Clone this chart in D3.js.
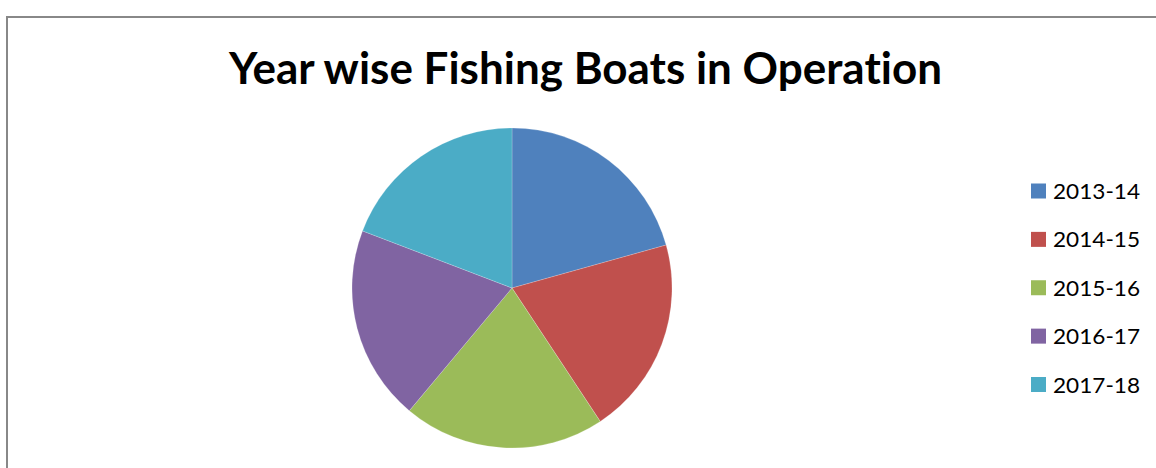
<!DOCTYPE html>
<html>
<head>
<meta charset="utf-8">
<script src="https://cdn.jsdelivr.net/npm/d3@7"></script>
<style>
  body { margin: 0; background: #fff; }
  svg { display: block; }
  text { font-variant-ligatures: none; font-feature-settings: "liga" 0, "clig" 0; }
</style>
</head>
<body>
<div id="chart"></div>
<script>
// data (slice share of boats)
const years = ["2013-14", "2014-15", "2015-16", "2016-17", "2017-18"];
const boats = [2067, 2003, 2039, 1972, 1919];
const colors = ["#4F81BD", "#C0504D", "#9BBB59", "#8064A2", "#4BACC6"];

const width = 1156, height = 468;

const svg = d3.select("#chart")
    .append("svg")
    .attr("width", width)
    .attr("height", height);

// chart frame, runs off the right and bottom edge
svg.append("path")
    .attr("d", `M7,${height + 5} L7,17 L${width + 5},17`)
    .attr("fill", "none")
    .attr("stroke", "#888")
    .attr("stroke-width", 2);

// title
svg.append("text")
    .attr("x", 229)
    .attr("y", 84)
    .attr("textLength", 713)
    .attr("lengthAdjust", "spacingAndGlyphs")
    .style("font-family", "Lato, 'Open Sans', sans-serif")
    .style("font-weight", "bold")
    .style("font-size", "43px")
    .style("fill", "#000")
    .text("Year wise Fishing Boats in Operation");

// pie
const radius = 160;
const pieGroup = svg.append("g")
    .attr("transform", "translate(512,288)");

const pie = d3.pie().sort(null).value(d => d.value);
const arc = d3.arc().innerRadius(0).outerRadius(radius);

const slices = years.map((y, i) => ({ year: y, value: boats[i] }));
const color = d3.scaleOrdinal().domain(years).range(colors);

pieGroup.selectAll("path")
    .data(pie(slices))
    .enter().append("path")
    .attr("d", arc)
    .attr("fill", d => color(d.data.year))
    .attr("stroke", "#fff")
    .attr("stroke-width", 0.4)
    .attr("stroke-opacity", 0.5);

// legend
const legendY = d3.scalePoint().domain(years).range([191, 384.5]);

const legend = svg.append("g");
const items = legend.selectAll("g")
    .data(years)
    .enter().append("g")
    .attr("transform", d => `translate(1031,${legendY(d)})`);

items.append("rect")
    .attr("x", 0)
    .attr("y", -7.5)
    .attr("width", 15)
    .attr("height", 15)
    .attr("fill", d => color(d));

items.append("text")
    .attr("x", 22)
    .attr("y", 8)
    .attr("textLength", 87)
    .attr("lengthAdjust", "spacingAndGlyphs")
    .style("font-family", "Lato, 'Open Sans', sans-serif")
    .style("font-size", "21px")
    .style("fill", "#000")
    .text(d => d);
</script>
</body>
</html>
